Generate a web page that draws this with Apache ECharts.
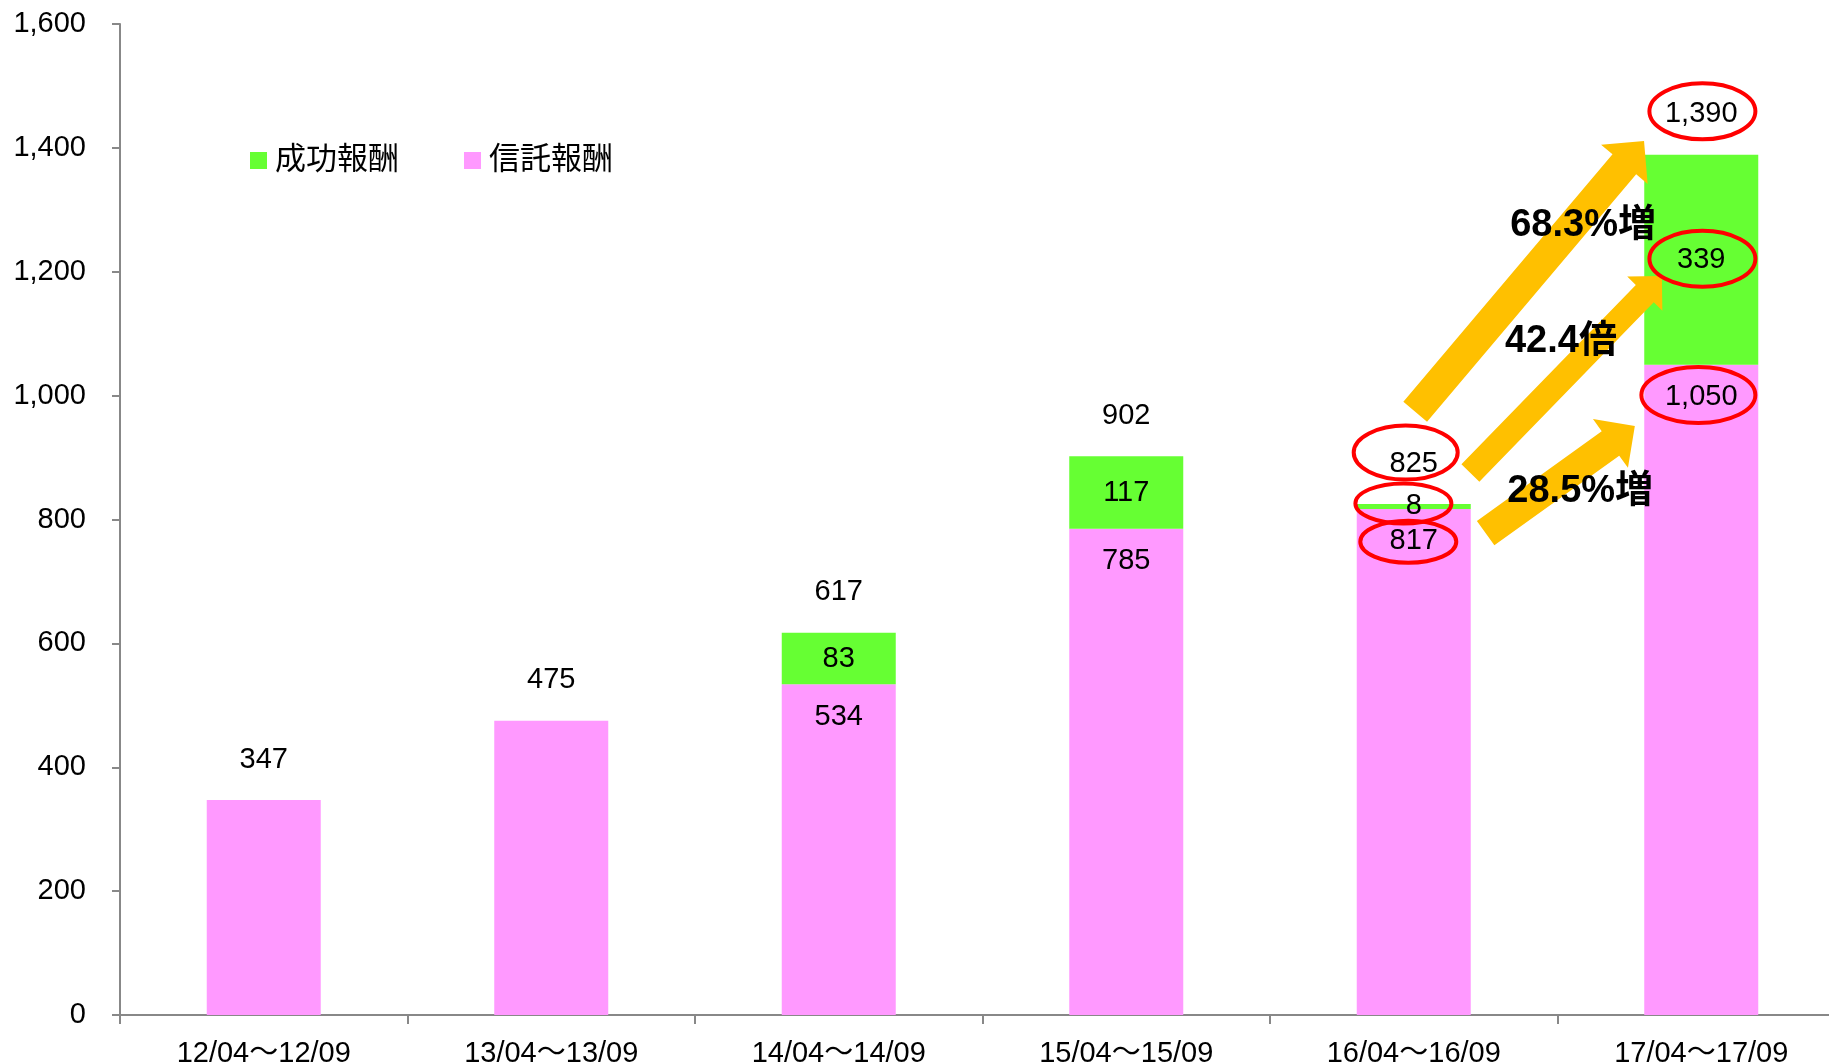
<!DOCTYPE html>
<html><head><meta charset="utf-8">
<script src="https://cdn.jsdelivr.net/npm/echarts@6/dist/echarts.min.js"></script>
<style>html,body{margin:0;padding:0;background:#fff;overflow:hidden}#c{width:1829px;height:1064px}</style>
</head><body><div id="c"></div>
<script>
const categories = ['12/04〜12/09','13/04〜13/09','14/04〜14/09','15/04〜15/09','16/04〜16/09','17/04〜17/09'];
const trustFee = [347, 475, 534, 785, 817, 1050];      // 信託報酬
const successFee = [null, null, 83, 117, 8, 339];      // 成功報酬
const totals = [347, 475, 617, 902, 825, 1390];
const yTicks = {min: 0, max: 1600, interval: 200};
// annotations in data coordinates [category position, value]
const arrows = [
  {tail: [4.005, 974], tip: [4.801, 1411], w: 31, head: 61},
  {tail: [4.197, 875], tip: [4.863, 1193], w: 25, head: 49},
  {tail: [4.25, 778], tip: [4.769, 951], w: 30, head: 60}
];
const notes = [
  {text: '68.3%増', at: [4.589, 1275]},
  {text: '42.4倍', at: [4.512, 1087]},
  {text: '28.5%増', at: [4.579, 845]}
];
const circles = [
  {at: [5.004, 1459], rx: 53, ry: 28},
  {at: [5.004, 1221], rx: 53, ry: 28},
  {at: [4.99, 1001], rx: 57, ry: 28},
  {at: [3.972, 908], rx: 52, ry: 27},
  {at: [3.964, 826], rx: 48, ry: 20},
  {at: [3.981, 764], rx: 48, ry: 21}
];

const FONT = "'Liberation Sans', 'Noto Sans CJK JP', sans-serif";
const fmt = v => Number(v).toLocaleString('en-US');
const chart = echarts.init(document.getElementById('c'));
chart.setOption({
  animation: false,
  textStyle: {fontFamily: FONT},
  grid: {left: 120, top: 24, width: 1725, height: 991, containLabel: false, outerBoundsMode: 'none'},
  legend: {
    left: 245, top: 140, itemWidth: 17, itemHeight: 17, itemGap: 65, icon: 'rect',
    data: ['成功報酬', '信託報酬'],
    textStyle: {fontSize: 31, color: '#000', fontFamily: FONT, padding: [0, 0, 0, 3]}
  },
  xAxis: {
    type: 'category', data: categories,
    axisLine: {lineStyle: {color: '#888', width: 2}},
    axisTick: {show: true, length: 9, lineStyle: {color: '#888', width: 2}},
    axisLabel: {fontSize: 29, color: '#000', margin: 24, fontFamily: FONT}
  },
  yAxis: {
    type: 'value', min: yTicks.min, max: yTicks.max, interval: yTicks.interval,
    splitLine: {show: false},
    axisLine: {show: true, lineStyle: {color: '#888', width: 2}},
    axisTick: {show: true, length: 8, lineStyle: {color: '#888', width: 2}},
    axisLabel: {fontSize: 29, color: '#000', margin: 34, fontFamily: FONT, formatter: v => fmt(v)}
  },
  series: [
    {
      name: '信託報酬', type: 'bar', stack: 'fee', barWidth: 114, barGap: '-100%',
      itemStyle: {color: '#FF99FF'},
      data: trustFee.map((v, i) => ({value: v, label: {show: successFee[i] != null}})),
      label: {position: 'insideTop', distance: 18, fontSize: 29, color: '#000', fontFamily: FONT, formatter: p => fmt(p.value)}
    },
    {
      name: '成功報酬', type: 'bar', stack: 'fee', barWidth: 114, barGap: '-100%',
      itemStyle: {color: '#66FF33'},
      data: successFee,
      label: {show: true, position: 'inside', fontSize: 29, color: '#000', fontFamily: FONT, formatter: p => fmt(p.value)}
    },
    {
      name: 'total', type: 'bar', barWidth: 114, barGap: '-100%', silent: true, z: 1,
      itemStyle: {color: 'rgba(0,0,0,0)'},
      data: totals,
      label: {show: true, position: 'top', distance: 26, fontSize: 29, color: '#000', fontFamily: FONT, formatter: p => fmt(p.value)}
    }
  ]
});

function toPx(pt) {
  const x0 = chart.convertToPixel({xAxisIndex: 0}, categories[0]);
  const x1 = chart.convertToPixel({xAxisIndex: 0}, categories[1]);
  const band = x1 - x0;
  const i = Math.floor(pt[0]);
  const xi = chart.convertToPixel({xAxisIndex: 0}, categories[i]);
  return [xi + (pt[0] - i) * band, chart.convertToPixel({yAxisIndex: 0}, pt[1])];
}
const graphics = [];
arrows.forEach(a => {
  const T = toPx(a.tail), P = toPx(a.tip);
  const dx = P[0] - T[0], dy = P[1] - T[1], len = Math.hypot(dx, dy);
  const d = [dx / len, dy / len], n = [-d[1], d[0]];
  const L = a.head / 2;
  const B = [P[0] - L * d[0], P[1] - L * d[1]];
  const off = (p, k) => [p[0] + n[0] * k, p[1] + n[1] * k];
  graphics.push({
    type: 'polygon', z: 100,
    shape: {points: [off(T, a.w / 2), off(B, a.w / 2), off(B, a.head / 2), P, off(B, -a.head / 2), off(B, -a.w / 2), off(T, -a.w / 2)]},
    style: {fill: '#FFC000'}
  });
});
notes.forEach(t => {
  const p = toPx(t.at);
  graphics.push({
    type: 'text', z: 110, x: p[0], y: p[1],
    style: {text: t.text, fill: '#000', font: "bold 38px " + FONT, align: 'center', verticalAlign: 'middle'}
  });
});
circles.forEach(c => {
  const p = toPx(c.at);
  graphics.push({
    type: 'ellipse', z: 120,
    shape: {cx: p[0], cy: p[1], rx: c.rx, ry: c.ry},
    style: {fill: null, stroke: '#FF0000', lineWidth: 4}
  });
});
chart.setOption({graphic: graphics});
</script></body></html>
